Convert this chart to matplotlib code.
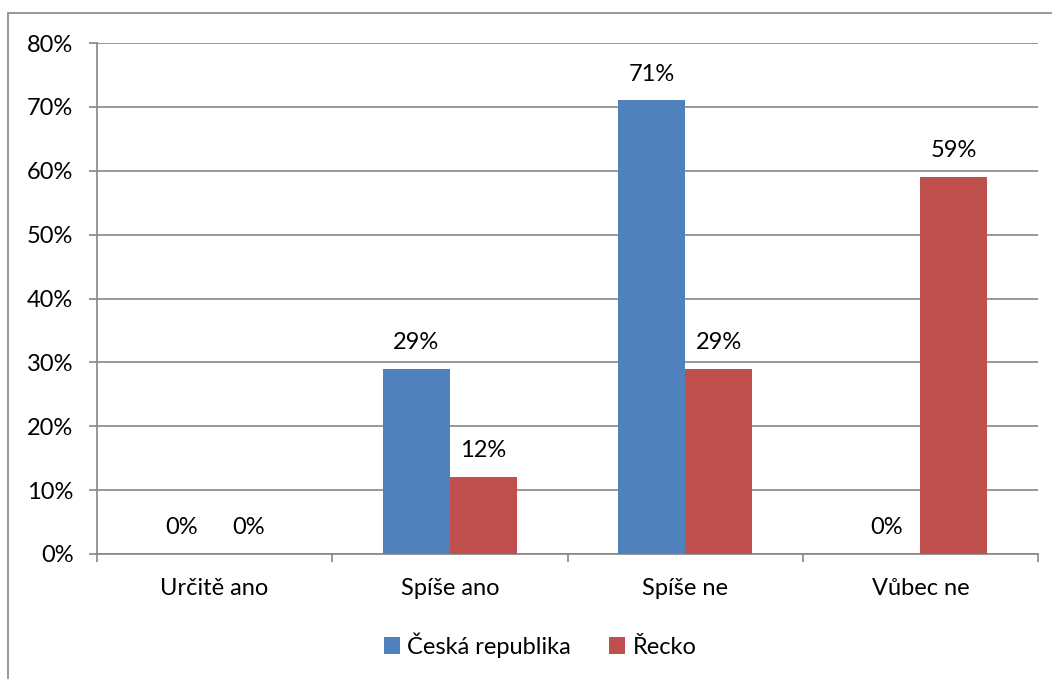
import numpy as np
import matplotlib.pyplot as plt
from matplotlib.patches import Rectangle
from matplotlib.ticker import MultipleLocator, FixedLocator, PercentFormatter

plt.rcParams['font.family'] = ['Lato', 'DejaVu Sans']

categories = ['Určitě ano', 'Spíše ano', 'Spíše ne', 'Vůbec ne']
cz_values = [0, 29, 71, 0]
gr_values = [0, 12, 29, 59]
series_names = ['Česká republika', 'Řecko']

blue = '#4F81BD'
red = '#C0504D'
grey = '#868686'
fs = 17

fig = plt.figure(figsize=(10.52, 6.79), dpi=100)
ax = fig.add_axes([97 / 1052, 1 - 554 / 679, (1038 - 97) / 1052, (554 - 43) / 679])

# outer chart frame
fig.patches.append(Rectangle((8 / 1052, -0.05), 1.1, 1 - 13 / 679 + 0.05,
                             transform=fig.transFigure, fill=False,
                             edgecolor=grey, linewidth=1.2))

x = np.arange(len(categories))
w = 0.285
b1 = ax.bar(x - w / 2, cz_values, w, color=blue, label=series_names[0], zorder=3)
b2 = ax.bar(x + w / 2, gr_values, w, color=red, label=series_names[1], zorder=3)

for bars, vals in ((b1, cz_values), (b2, gr_values)):
    for rect, v in zip(bars, vals):
        ax.annotate(f'{v}%', (rect.get_x() + rect.get_width() / 2, v),
                    xytext=(0, 19), textcoords='offset points',
                    ha='center', va='center', fontsize=fs, color='black')

ax.set_xlim(-0.5, len(categories) - 0.5)
ax.set_ylim(0, 80)
ax.yaxis.set_major_locator(MultipleLocator(10))
ax.yaxis.set_major_formatter(PercentFormatter(decimals=0))
ax.grid(axis='y', color=grey, linewidth=1.2, zorder=0)

ax.set_xticks(x)
ax.set_xticklabels(categories)
ax.xaxis.set_minor_locator(FixedLocator(np.arange(len(categories) + 1) - 0.5))
ax.tick_params(axis='x', which='major', length=0, pad=17, labelsize=fs)
ax.tick_params(axis='x', which='minor', length=6, width=1.2, color=grey, direction='out')
ax.tick_params(axis='y', length=6, width=1.2, color=grey, direction='out', pad=11, labelsize=fs)

for side in ('top', 'right'):
    ax.spines[side].set_visible(False)
for side in ('left', 'bottom'):
    ax.spines[side].set_color(grey)
    ax.spines[side].set_linewidth(1.2)

fig.legend(loc='center', bbox_to_anchor=(540 / 1052, 1 - 645 / 679), ncol=2,
           frameon=False, fontsize=fs, handlelength=0.7, handleheight=0.7,
           handletextpad=0.3, columnspacing=1.6)

fig.savefig('out.png', dpi=100)
